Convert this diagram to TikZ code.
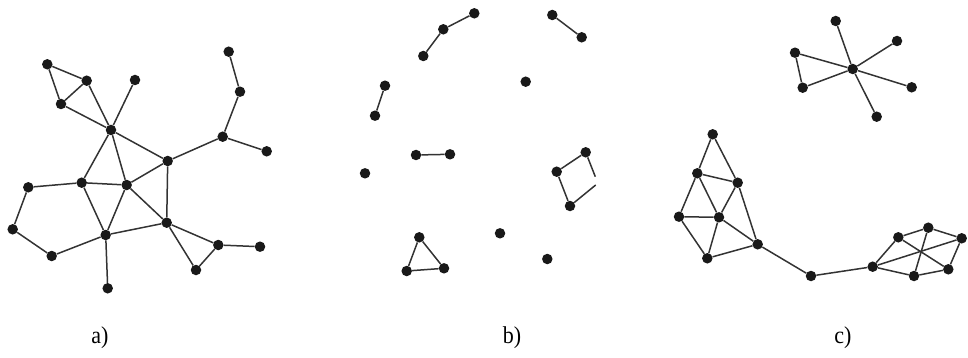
\documentclass[tikz,border=0pt]{standalone}
\usepackage{fontspec}
\setmainfont{Liberation Serif}
\usepackage{tikz}
\usetikzlibrary{positioning}
\tikzset{
  dot/.style={circle,fill=black!90,draw=none,inner sep=0pt,minimum size=10.5pt},
  edge/.style={draw=black!80,line width=1.5pt},
  lbl/.style={font=\fontsize{22}{24}\selectfont,inner sep=0pt,yscale=1.1},
}

\begin{document}
\begin{tikzpicture}[x=1pt,y=-1pt]
\useasboundingbox (0,0) rectangle (968,358);
% Panel a: one connected network
\foreach \n/\x/\y in {1/47.3/64.3, 2/86.7/80.7, 3/135/80, 4/61/104,
                      5/111/130, 6/228.7/51.7, 7/240/91.7, 8/222.7/136.7,
                      9/266.7/151.3, 10/167.7/161, 11/28.3/187.3,
                      12/81.7/182.7, 13/126.7/185, 14/12.7/229.3,
                      15/166.7/222.7, 16/105.7/235, 17/218.3/245,
                      18/260/246.7, 19/51.7/256, 20/196/270, 21/107.7/288.3}{
  \node[dot] (a\n) at (\x,\y) {};
}
\foreach \u/\v in {1/2, 1/4, 2/4, 2/5, 4/5, 3/5, 5/10, 5/12, 5/13,
                   6/7, 7/8, 8/9, 8/10, 10/13, 10/15, 11/12, 11/14,
                   12/13, 12/16, 13/16, 13/15, 14/19, 19/16, 16/15,
                   16/21, 15/17, 15/20, 17/20, 17/18}{
  \draw[edge] (a\u) -- (a\v);
}
% Panel b: broken into pieces
\foreach \n/\x/\y in {1/474.3/13.3, 2/443.3/29.3, 3/423.3/56, 4/552.3/15,
                      5/581.7/37.3, 6/525.7/81.7, 7/385/85.7, 8/375/115.7,
                      9/416/155, 10/450/154.3, 11/365/173.3, 12/585.7/152.3,
                      13/556.7/171.7, 14/570/206, 16/419.3/237.3,
                      17/406.7/271, 18/444/268.3, 19/500/233.3, 20/547.3/259}{
  \node[dot] (b\n) at (\x,\y) {};
}
\coordinate (bcut1) at (595.3,176.7);
\coordinate (bcut2) at (595.7,185);
\foreach \u/\v in {1/2, 2/3, 4/5, 7/8, 9/10, 12/13, 13/14,
                   16/17, 16/18, 17/18}{
  \draw[edge] (b\u) -- (b\v);
}
\draw[edge] (b12) -- (bcut1);
\draw[edge] (b14) -- (bcut2);
% Panel c: star and two joined clusters
\foreach \n/\x/\y in {1/835.7/21, 2/897/41, 3/795/52.7, 4/852.7/69,
                      5/802.7/87.7, 6/911.7/87.3, 7/876.7/116.7}{
  \node[dot] (c\n) at (\x,\y) {};
}
\foreach \u/\v in {1/4, 2/4, 3/4, 3/5, 5/4, 4/6, 4/7}{
  \draw[edge] (c\u) -- (c\v);
}
\foreach \n/\x/\y in {1/712.7/134.3, 2/697.3/173.3, 3/737.7/182.7,
                      4/679/216.7, 5/719/217.3, 6/757.7/244.3,
                      7/707.3/258.3, 8/811/276}{
  \node[dot] (d\n) at (\x,\y) {};
}
\foreach \n/\x/\y in {1/872.7/266.7, 2/898.3/237.3, 3/928.3/227.7,
                      4/961.7/238.3, 5/948.3/269.3, 6/914/276}{
  \node[dot] (e\n) at (\x,\y) {};
}
\foreach \u/\v in {1/2, 1/3, 2/3, 2/4, 2/5, 3/5, 3/6, 4/5, 4/7,
                   5/7, 5/6, 7/6, 6/8}{
  \draw[edge] (d\u) -- (d\v);
}
\draw[edge] (d8) -- (e1);
\foreach \u/\v in {1/2, 2/3, 3/4, 4/5, 5/6, 6/1, 1/4, 2/5, 3/6}{
  \draw[edge] (e\u) -- (e\v);
}
% captions
\node[lbl] (capa) at (100,338) {a)};
\node[lbl] (capb) at (512,338) {b)};
\node[lbl] (capc) at (843,338) {c)};
\end{tikzpicture}
\end{document}
